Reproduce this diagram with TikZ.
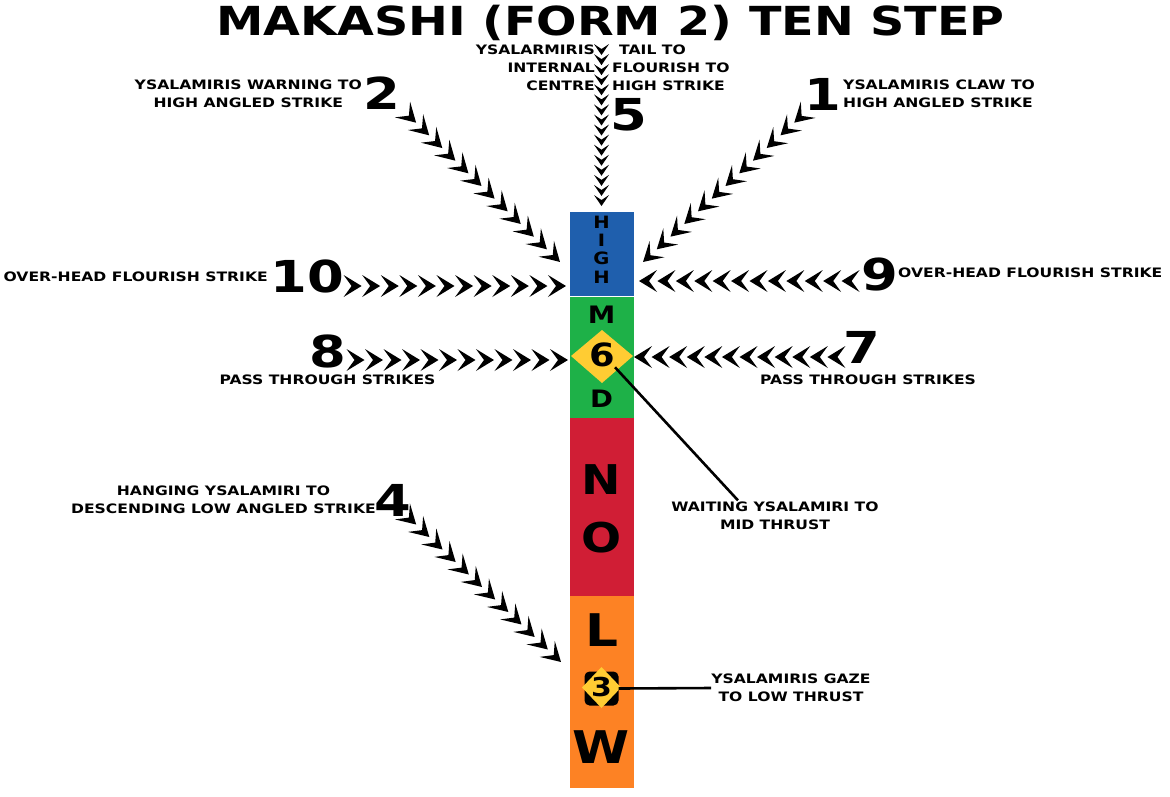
\documentclass[tikz,border=0pt]{standalone}
\usepackage{fontspec}
\newfontfamily\techfont[FakeStretch=1.2]{DejaVu Sans}
\newfontfamily\titlefont[FakeStretch=1.19]{DejaVu Sans}
\newfontfamily\colfont[FakeStretch=1.15]{DejaVu Sans}
\usetikzlibrary{decorations.markings,calc}
\definecolor{hiblue}{RGB}{31,95,173}
\definecolor{midgreen}{RGB}{30,177,72}
\definecolor{nored}{RGB}{208,30,53}
\definecolor{loworange}{RGB}{253,130,36}
\definecolor{gold}{RGB}{255,204,51}
\newcommand\chevbig{\fill[black] (0pt,0pt) -- (-18pt,11pt) -- (-10pt,0pt) -- (-18pt,-11pt) -- cycle;}
\newcommand\chevdiag{\fill[black] (0pt,0pt) -- (-19pt,11pt) -- (-10pt,0pt) -- (-19pt,-11pt) -- cycle;}
\newcommand\chevsmall{\fill[black] (0pt,0pt) -- (-11pt,7.5pt) -- (-6pt,0pt) -- (-11pt,-7.5pt) -- cycle;}
\begin{document}
\begin{tikzpicture}[x=1pt, y=-1pt,
  lbl/.style={font=\techfont\bfseries\fontsize{13}{18}\selectfont, inner sep=0pt, align=center},
  bignum/.style={font=\techfont\bfseries\fontsize{44}{44}\selectfont, inner sep=0pt},
  titletxt/.style={font=\titlefont\bfseries\fontsize{40}{40}\selectfont, inner sep=0pt},
  band/.style={inner sep=0pt, minimum width=64pt, anchor=north, draw=none},
  colletter/.style={font=\colfont\bfseries\fontsize{#1}{#1}\selectfont, inner sep=0pt},
  leader/.style={line width=2.6pt, black},
  chevrons/.style 2 args={decorate, decoration={markings, mark=between positions 1/#1 and 1.001 step 1/#1 with {#2}}}
]
\useasboundingbox (0,0) rectangle (1170,796);
\fill[white] (0,0) rectangle (1170,796);

% title
\node[titletxt] (title) at (610.5,22.5) {MAKASHI (FORM 2) TEN STEP};

% column
\node[band, fill=hiblue, minimum height=84pt] (high) at (602,212) {};
\node[band, fill=midgreen, minimum height=121pt] (mid) at (high.south) {};
\node[band, fill=nored, minimum height=178pt] (no) at (mid.south) {};
\node[band, fill=loworange, minimum height=192pt] (low) at (no.south) {};

\node[align=center, inner sep=0pt, font=\colfont\bfseries\fontsize{17}{18.3}\selectfont] (hightxt) at (601.5,249.5) {H\\I\\G\\H};
\node[colletter=24] (lm) at (601.5,315) {M};
\fill[gold] (571,356) -- (602,330) -- (633,356) -- (602,383) -- cycle;
\node[colletter=32] (n6) at (602,355) {6};
\node[colletter=24] (ld) at (601.5,398.5) {D};
\node[colletter=41] (ln) at (601.5,480) {N};
\node[colletter=41] (lo) at (601.5,538) {O};
\node[colletter=45] (ll) at (601.5,630) {L};
\node[fill=black, rounded corners=5pt, minimum size=34pt, inner sep=0pt] (sq3) at (601.5,688.5) {};
\fill[gold] (582,687.5) -- (601.5,667) -- (621,687.5) -- (601.5,708) -- cycle;
\node[colletter=26] (n3) at (601.5,687.5) {3};
\node[colletter=45] (lw) at (601.5,747) {W};

% numbers
\node[bignum] (n1) at (822.5,94) {1};
\node[bignum] (n2) at (381.5,93.5) {2};
\node[bignum] (n4) at (393,500) {4};
\node[bignum] (n5) at (628.5,115) {5};
\node[bignum] (n7) at (862,347.5) {7};
\node[bignum] (n8) at (328,351) {8};
\node[bignum] (n9) at (879.5,274) {9};
\node[bignum] (n10) at (307,276.5) {10};

% labels
\node[lbl, anchor=west, align=left] (t1) at (843,94) {YSALAMIRIS CLAW TO\\HIGH ANGLED STRIKE};
\node[lbl, anchor=east] (t2) at (362,94) {YSALAMIRIS WARNING TO\\HIGH ANGLED STRIKE};
\node[lbl, anchor=east] (t4) at (376,500) {HANGING YSALAMIRI TO\\DESCENDING LOW ANGLED STRIKE};
\node[lbl, anchor=east, align=right] (t5l) at (595,67.5) {YSALARMIRIS\\INTERNAL\\CENTRE};
\node[lbl, anchor=west, align=left] (t5r) at (612,67.5) {\hspace*{7pt}TAIL TO\\FLOURISH TO\\HIGH STRIKE};
\node[lbl] (t7) at (868,380) {PASS THROUGH STRIKES};
\node[lbl] (t8) at (327.5,380) {PASS THROUGH STRIKES};
\node[lbl, anchor=west] (t9) at (898,273) {OVER-HEAD FLOURISH STRIKE};
\node[lbl, anchor=east] (t10) at (268,277) {OVER-HEAD FLOURISH STRIKE};
\node[lbl] (twait) at (775,515.5) {WAITING YSALAMIRI TO\\MID THRUST};
\node[lbl] (tgaze) at (791,688) {YSALAMIRIS GAZE\\TO LOW THRUST};

% chain end points
\coordinate (c1s) at (808,110);   \coordinate (c1e) at (643,262);
\coordinate (c2s) at (403,110);   \coordinate (c2e) at (560,262);
\coordinate (c4s) at (403,512);   \coordinate (c4e) at (561,662);
\coordinate (c5s) at (601.5,45);  \coordinate (c5e) at (601.5,206);
\coordinate (c7s) at (845,357);   \coordinate (c7e) at (634,357);
\coordinate (c8s) at (346,360);   \coordinate (c8e) at (568,360);
\coordinate (c9s) at (860,281);   \coordinate (c9e) at (639,281);
\coordinate (c10s) at (343,286);  \coordinate (c10e) at (566,286);

\path[chevrons={12}{\chevdiag}] (c1s) -- (c1e);
\path[chevrons={12}{\chevdiag}] (c2s) -- (c2e);
\path[chevrons={12}{\chevdiag}] (c4s) -- (c4e);
\path[chevrons={16}{\chevsmall}] (c5s) -- (c5e);
\path[chevrons={12}{\chevbig}] (c7s) -- (c7e);
\path[chevrons={12}{\chevbig}] (c8s) -- (c8e);
\path[chevrons={12}{\chevbig}] (c9s) -- (c9e);
\path[chevrons={12}{\chevbig}] (c10s) -- (c10e);

% leaders
\draw[leader] (n6.south east) -- ($(twait.north)+(-37,-1)$);
\draw[leader] (sq3.east) -- (tgaze.west);
\end{tikzpicture}
\end{document}
